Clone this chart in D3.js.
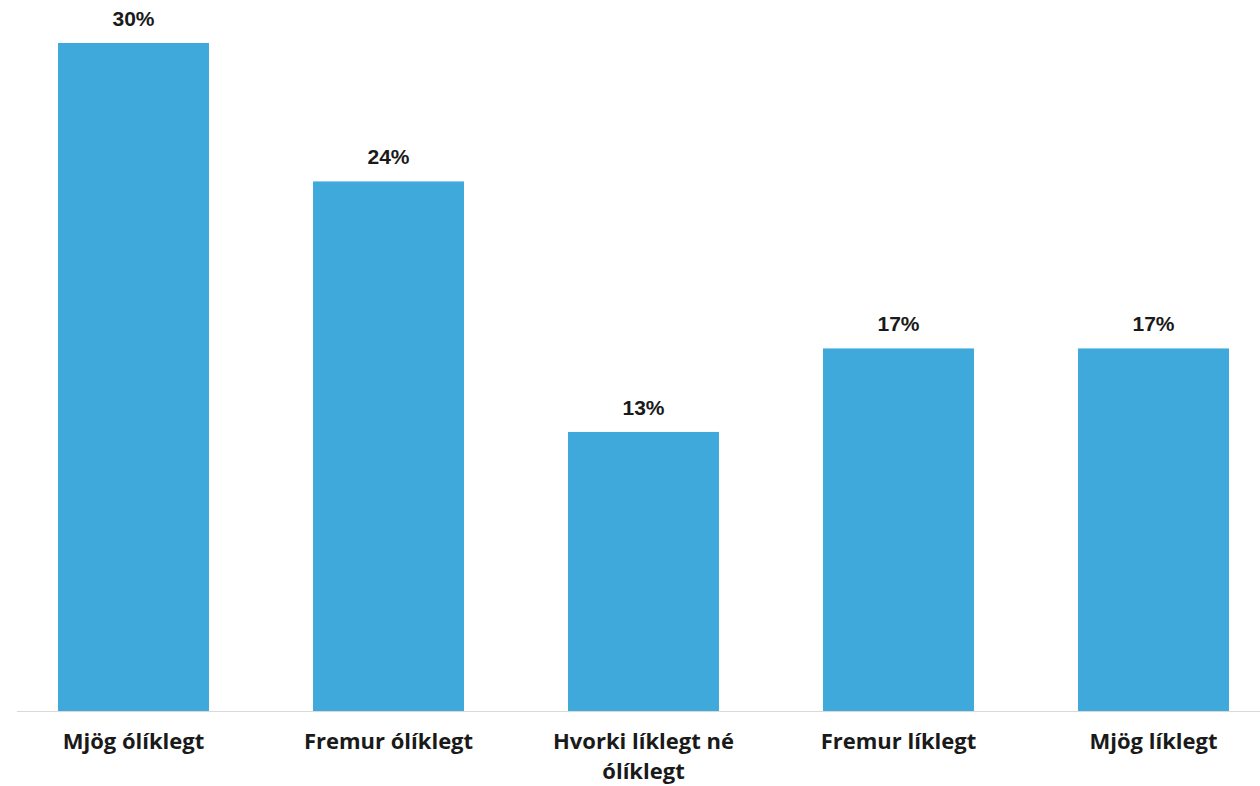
<!DOCTYPE html>
<html>
<head>
<meta charset="utf-8">
<script src="https://cdn.jsdelivr.net/npm/d3@7"></script>
<style>
  body { margin: 0; background: #fff; }
  svg { display: block; }
</style>
</head>
<body>
<script>
const categories = ['Mjög ólíklegt', 'Fremur ólíklegt', 'Hvorki líklegt né|ólíklegt', 'Fremur líklegt', 'Mjög líklegt']
const values = [30.4, 24.1, 12.7, 16.5, 16.5]

const width = 1260
const height = 786
const baseline = 711
const barColor = '#3EA9DA'
const textColor = '#1a1a1a'

const svg = d3.select('body').append('svg')
  .attr('width', width)
  .attr('height', height)

const x = d3.scaleBand()
  .domain(categories)
  .range([6, 1281])
  .paddingInner(0.408)
  .paddingOuter(0.204)

const y = d3.scaleLinear()
  .domain([0, d3.max(values)])
  .range([baseline, 43])

const data = categories.map((c, i) => ({cat: c, value: values[i]}))

svg.selectAll('.bar')
  .data(data)
  .enter()
  .append('rect')
  .attr('class', 'bar')
  .attr('x', d => x(d.cat))
  .attr('y', d => y(d.value))
  .attr('width', x.bandwidth())
  .attr('height', d => baseline - y(d.value))
  .attr('fill', barColor)

// value labels
svg.selectAll('.value-label')
  .data(data)
  .enter()
  .append('text')
  .attr('class', 'value-label')
  .attr('x', d => x(d.cat) + x.bandwidth() / 2)
  .attr('y', d => y(d.value) - 17)
  .attr('text-anchor', 'middle')
  .attr('font-family', 'Liberation Sans, Arial, sans-serif')
  .attr('font-weight', 'bold')
  .attr('font-size', 21)
  .attr('fill', textColor)
  .text(d => Math.round(d.value) + '%')

// baseline
svg.append('line')
  .attr('x1', 17)
  .attr('x2', width)
  .attr('y1', baseline + 0.5)
  .attr('y2', baseline + 0.5)
  .attr('stroke', '#d9d9d9')
  .attr('stroke-width', 1)

// category labels, split on '|'
const catLabels = svg.selectAll('.cat-label')
  .data(data)
  .enter()
  .append('text')
  .attr('class', 'cat-label')
  .attr('x', d => x(d.cat) + x.bandwidth() / 2)
  .attr('y', 749)
  .attr('text-anchor', 'middle')
  .attr('font-family', 'Open Sans, sans-serif')
  .attr('font-weight', 'bold')
  .attr('font-size', 22)
  .attr('fill', textColor)

catLabels.selectAll('tspan')
  .data(d => d.cat.split('|').map(t => ({t, x: x(d.cat) + x.bandwidth() / 2})))
  .enter()
  .append('tspan')
  .attr('x', d => d.x)
  .attr('dy', (d, i) => i === 0 ? 0 : 30)
  .text(d => d.t)
</script>
</body>
</html>
